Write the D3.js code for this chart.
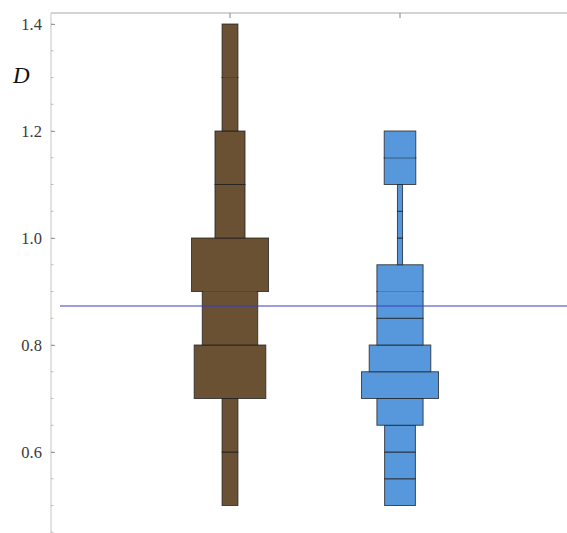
<!DOCTYPE html>
<html>
<head>
<meta charset="utf-8">
<script src="https://cdn.jsdelivr.net/npm/d3@7"></script>
<style>
  html, body { margin: 0; padding: 0; background: #fff; }
  svg { display: block; }
</style>
</head>
<body>
<svg id="chart" width="567" height="533"></svg>
<script>
// Group positions along the horizontal axis
const groupPositions = [1, 2];

// Brown group: bin edges and bar widths (relative frequency units)
const brownEdges  = [0.5, 0.6, 0.7, 0.8, 0.9, 1.0, 1.1, 1.2, 1.3, 1.4];
const brownWidths = [1.03, 1.03, 4.65, 3.6, 5.0, 1.95, 1.95, 1.03, 1.03];

// Blue group: bin edges and bar widths
const blueEdges  = [0.5, 0.55, 0.6, 0.65, 0.7, 0.75, 0.8, 0.85, 0.9, 0.95, 1.0, 1.05, 1.1, 1.15, 1.2];
const blueWidths = [2, 2, 2, 3, 5, 4, 3, 3, 3, 0.33, 0.33, 0.33, 2.05, 2.05];

// Reference level drawn across the plot
const referenceLevel = 0.873;

// Vertical axis ticks
const yTicks = [0.6, 0.8, 1.0, 1.2, 1.4];
const yMinorTicks = d3.range(0.45, 1.4001, 0.05);

const svg = d3.select("#chart");

const y = d3.scaleLinear().domain([0.5, 1.4]).range([505.5, 24]);
const x = d3.scaleLinear().domain([0, 3]).range([60, 570]);
const w = d3.scaleLinear().domain([0, 1]).range([0, 15.4]);

const axisX = x(-0.053);
const plotTop = 13, plotBottom = 533;

// Frame lines: left axis and top border
svg.append("line")
  .attr("x1", axisX).attr("x2", axisX)
  .attr("y1", plotTop).attr("y2", plotBottom)
  .attr("stroke", "#cfcfcf").attr("stroke-width", 1.2);
svg.append("line")
  .attr("x1", axisX).attr("x2", 567)
  .attr("y1", plotTop).attr("y2", plotTop)
  .attr("stroke", "#c4c4c4").attr("stroke-width", 1.6);

// Top tick marks at the group positions
svg.selectAll("line.topTick").data(groupPositions).join("line")
  .attr("class", "topTick")
  .attr("x1", d => x(d)).attr("x2", d => x(d))
  .attr("y1", plotTop).attr("y2", plotTop + 5)
  .attr("stroke", "#999").attr("stroke-width", 1.2);

// Minor ticks on the vertical axis
svg.selectAll("line.minor").data(yMinorTicks).join("line")
  .attr("class", "minor")
  .attr("x1", axisX).attr("x2", axisX + 2.5)
  .attr("y1", d => y(d)).attr("y2", d => y(d))
  .attr("stroke", "#bbb").attr("stroke-width", 1);

// Major ticks (pointing inward) and labels on the left
const yAxis = d3.axisLeft(y)
  .tickValues(yTicks)
  .tickSize(-4)
  .tickPadding(9)
  .tickFormat(d3.format(".1f"));
const gAxis = svg.append("g")
  .attr("transform", `translate(${axisX},0)`)
  .call(yAxis);
gAxis.select(".domain").remove();
gAxis.selectAll(".tick line").attr("stroke", "#999");
gAxis.selectAll(".tick text")
  .attr("fill", "#3a3a3a")
  .style("font-family", "'Liberation Serif', 'Times New Roman', serif")
  .style("font-size", "16.5px");

// Axis title
svg.append("text")
  .attr("x", 13).attr("y", 83)
  .style("font-family", "'Liberation Serif', 'Times New Roman', serif")
  .style("font-style", "italic")
  .style("font-size", "23px")
  .attr("fill", "#111")
  .text("D");

// Build bins for each group
function makeBins(edges, widths) {
  return widths.map((v, i) => ({ lo: edges[i], hi: edges[i + 1], v }));
}
const groups = [
  { pos: groupPositions[0], bins: makeBins(brownEdges, brownWidths), fill: "#6a5134", faint: [1.3, 0.9] },
  { pos: groupPositions[1], bins: makeBins(blueEdges, blueWidths), fill: "#5798dc", faint: [1.15, 0.9] }
];

groups.forEach(g => {
  const cx = x(g.pos);
  const gg = svg.append("g");
  gg.selectAll("rect").data(g.bins).join("rect")
    .attr("x", d => cx - w(d.v) / 2)
    .attr("width", d => w(d.v))
    .attr("y", d => y(d.hi))
    .attr("height", d => y(d.lo) - y(d.hi))
    .attr("fill", g.fill)
    .attr("stroke", "#1c1c1c")
    .attr("stroke-opacity", 0.75)
    .attr("stroke-width", 1);

  // Soften some internal dividers between adjacent bins
  const faintBins = g.bins.filter(d => g.faint.some(f => Math.abs(f - d.hi) < 1e-9));
  gg.selectAll("line.soft").data(faintBins).join("line")
    .attr("class", "soft")
    .attr("x1", d => cx - w(d.v) / 2 + 1)
    .attr("x2", d => cx + w(d.v) / 2 - 1)
    .attr("y1", d => y(d.hi)).attr("y2", d => y(d.hi))
    .attr("stroke", g.fill)
    .attr("stroke-width", 1.2)
    .attr("stroke-opacity", 0.75);
});

// Reference line
svg.append("line")
  .attr("x1", x(0)).attr("x2", 567)
  .attr("y1", y(referenceLevel)).attr("y2", y(referenceLevel))
  .attr("stroke", "#3a3ac4").attr("stroke-width", 1.1);
</script>
</body>
</html>
